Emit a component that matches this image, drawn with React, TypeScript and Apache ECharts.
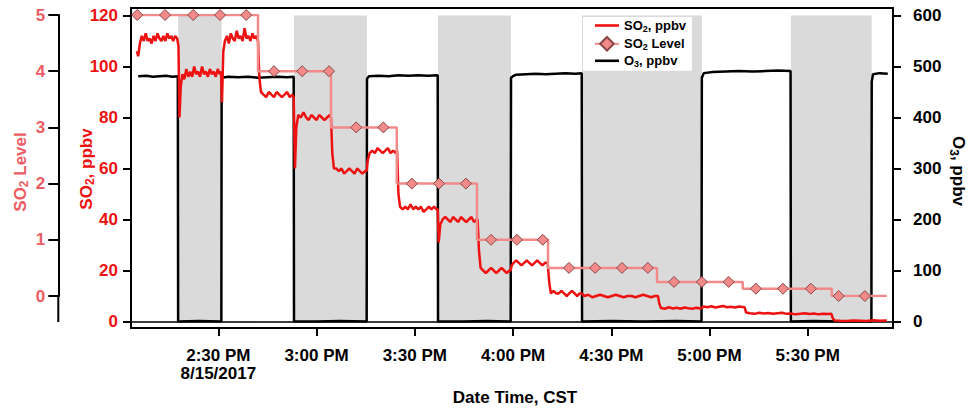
import React, { useEffect, useRef } from 'react';
import * as echarts from 'echarts';

const FONT = '"Liberation Sans", Arial, Helvetica, sans-serif';

// time values are minutes after 2:00 PM, 8/15/2017
const timeMin = 3.3;
const timeMax = 236.1;
const timeTickLabels = ['2:00 PM', '2:30 PM\n8/15/2017', '3:00 PM', '3:30 PM', '4:00 PM', '4:30 PM', '5:00 PM', '5:30 PM', '6:00 PM'];

const so2Ticks = { min: 0, max: 120, interval: 20 };
const o3Ticks = { min: 0, max: 600, interval: 100 };
const levelTicks = { min: 0, max: 5, interval: 1 };

// periods where O3 was switched off (shaded)
const grayPeriods: [number, number][] = [[17.7, 31.0], [53.1, 75.4], [97.1, 119.4], [141.1, 177.7], [204.9, 229.6]];

const so2Data: [number, number][] = [
  [5.1, 106], [5.5, 104], [6.0, 109], [6.6, 112], [7.2, 110], [7.8, 113], [8.4, 110], [9.0, 111], [9.6, 109], [10.2, 112], [10.8, 110], [11.4, 113], [12.0, 111], [12.6, 110], [13.2, 112], [13.8, 110], [14.4, 113], [15.0, 111], [15.6, 112], [16.2, 110], [16.8, 112], [17.4, 111], [17.8, 108],
  [18.1, 80], [18.5, 92], [19.0, 97], [19.6, 95], [20.2, 99], [20.8, 96], [21.4, 98], [22.0, 96], [22.6, 100], [23.2, 97], [23.8, 98], [24.4, 96], [25.0, 100], [25.6, 97], [26.2, 98], [26.8, 96], [27.4, 99], [28.0, 97], [28.6, 98], [29.2, 96], [29.8, 99], [30.4, 97], [30.8, 98],
  [31.1, 86], [31.5, 106], [32.0, 110], [32.6, 112], [33.2, 109], [33.8, 113], [34.4, 111], [35.0, 110], [35.6, 114], [36.2, 111], [36.8, 112], [37.4, 110], [38.0, 115], [38.6, 111], [39.2, 112], [39.8, 110], [40.4, 113], [41.0, 111], [41.6, 112], [42.1, 110],
  [42.5, 96], [43.0, 90], [43.8, 89], [44.6, 88], [45.4, 90], [46.2, 89], [47.0, 88], [47.8, 90], [48.6, 89], [49.4, 88], [50.2, 89], [51.0, 90], [51.8, 88], [52.6, 89], [53.0, 88],
  [53.4, 60], [53.8, 76], [54.4, 81], [55.2, 80], [56.0, 82], [56.8, 80], [57.6, 79], [58.4, 81], [59.2, 80], [60.0, 79], [60.8, 81], [61.6, 80], [62.4, 79], [63.2, 80], [64.0, 81], [64.4, 80],
  [64.8, 66], [65.3, 60], [66.0, 60], [66.8, 59], [67.6, 60], [68.4, 58], [69.2, 59], [70.0, 60], [70.8, 59], [71.6, 58], [72.4, 60], [73.2, 59], [74.0, 58], [74.8, 59], [75.3, 59],
  [75.6, 63], [76.2, 66], [77.0, 67], [77.8, 66], [78.6, 68], [79.4, 67], [80.2, 66], [81.0, 67], [81.8, 68], [82.6, 66], [83.4, 67], [84.2, 66], [84.6, 67],
  [85.0, 50], [85.5, 45], [86.3, 44], [87.1, 45], [87.9, 44], [88.7, 46], [89.5, 44], [90.3, 45], [91.1, 44], [91.9, 45], [92.7, 43], [93.5, 44], [94.3, 45], [95.1, 44], [95.9, 45], [96.7, 44], [97.0, 44],
  [97.3, 31], [97.8, 38], [98.5, 40], [99.3, 41], [100.1, 40], [100.9, 39], [101.7, 41], [102.5, 40], [103.3, 39], [104.1, 41], [104.9, 40], [105.7, 39], [106.5, 40], [107.3, 41], [108.1, 39], [108.9, 40], [109.2, 40],
  [109.6, 28], [110.1, 21], [110.9, 20], [111.7, 19], [112.5, 20], [113.3, 21], [114.1, 20], [114.9, 19], [115.7, 20], [116.5, 21], [117.3, 20], [118.1, 19], [118.9, 20], [119.3, 20],
  [119.6, 22], [120.2, 23], [121.0, 24], [121.8, 23], [122.6, 22], [123.4, 23], [124.2, 24], [125.0, 23], [125.8, 22], [126.6, 23], [127.4, 24], [128.2, 23], [129.0, 22], [129.8, 23], [130.6, 23],
  [131.1, 15], [131.6, 11], [132.4, 12], [133.2, 11], [134.0, 11], [134.8, 12], [135.6, 11], [136.4, 10], [137.2, 11], [138.0, 12], [138.8, 11], [139.6, 10], [140.4, 11], [141.0, 11],
  [141.8, 10], [143.0, 10.5], [144.2, 9.5], [145.4, 10], [146.6, 10.5], [147.8, 10], [149.0, 9.5], [150.2, 10], [151.4, 10.5], [152.6, 10], [153.8, 9.5], [155.0, 10], [156.2, 10], [157.4, 9.5], [158.6, 10], [159.8, 10.5], [161.0, 10], [162.2, 9.5], [163.4, 10], [164.3, 10],
  [164.7, 7], [165.2, 5.3], [166.4, 5], [167.6, 5.6], [168.8, 5.1], [170.0, 5.4], [171.2, 5], [172.4, 5.5], [173.6, 5.2], [174.8, 5], [176.0, 5.4], [177.2, 5.1], [177.7, 5.3],
  [178.2, 5.9], [179.4, 5.6], [180.6, 6], [181.8, 5.5], [183.0, 5.8], [184.2, 6.1], [185.4, 5.6], [186.6, 5.8], [187.8, 5.5], [189.0, 5.9], [190.2, 5.7], [190.8, 5.6],
  [191.2, 3.5], [192.4, 3.2], [193.8, 3.0], [195.2, 3.4], [196.6, 3.1], [198.0, 3.3], [199.4, 3.0], [200.8, 3.2], [202.2, 3.4], [203.6, 3.0], [205.0, 3.1], [206.4, 2.8], [207.8, 3.0], [209.2, 3.2], [210.6, 2.9], [212.0, 3.1], [213.4, 2.8], [214.8, 3.0], [216.2, 2.9], [217.3, 3.0],
  [217.7, 1.2], [218.3, 0.4], [220.0, 0.3], [222.0, 0.2], [224.0, 0.4], [226.0, 0.3], [228.0, 0.2], [230.0, 0.5], [232.0, 0.3], [234.2, 0.4],
];

const o3Data: [number, number][] = [
  [5.5, 481], [8, 482], [10, 480], [12, 481], [14, 482], [16, 480], [17.6, 481], [17.7, 0], [24, 1], [30.9, 0],
  [31.0, 478], [33, 480], [36, 479], [39, 480], [42, 478], [45, 479], [48, 480], [51, 479], [53.0, 480], [53.1, 0], [60, 0], [67, 1], [75.3, 0],
  [75.4, 476], [76, 481], [79, 482], [82, 481], [85, 483], [88, 482], [91, 483], [94, 482], [97.0, 483], [97.1, 0], [105, 0], [112, 1], [119.3, 0],
  [119.4, 478], [120, 481], [121, 484], [124, 485], [127, 486], [130, 485], [133, 486], [136, 487], [139, 486], [141.0, 487], [141.1, 0], [150, 1], [160, 0], [170, 1], [177.6, 0],
  [177.7, 478], [178.3, 487], [181, 489], [185, 490], [189, 491], [193, 490], [197, 491], [201, 492], [204.8, 491], [204.9, 0], [212, 1], [220, 0], [229.5, 0],
  [229.6, 470], [230, 485], [232, 487], [234.5, 486],
];

const levelValues = [5, 4, 3, 2, 1, 0.5, 0.25, 0.13, 0];
const levelEdges = [5.2, 42.1, 64.4, 84.5, 109.0, 130.7, 164.0, 190.2, 217.4, 234.2];
const levelMarkerTimes = [5.2, 13.7, 22.3, 30.5, 38.5, 47.0, 55.6, 63.8, 72.1, 80.4, 89.1, 97.4, 105.6, 113.3, 121.2, 129.1, 137.1, 145.1, 153.3, 161.2, 169.2, 177.7, 185.9, 194.2, 202.5, 211.0, 219.5, 227.5];

const seriesNames = ['SO2, ppbv', 'SO2 Level', 'O3, ppbv'];
const richNames: Record<string, string> = {
  'SO2, ppbv': '{a|SO}{s|2}{a|, ppbv}',
  'SO2 Level': '{a|SO}{s|2}{a| Level}',
  'O3, ppbv': '{a|O}{s|3}{a|, ppbv}',
};

function buildLevelData() {
  const out: any[] = [];
  levelValues.forEach((lv, i) => {
    const a = levelEdges[i];
    const b = levelEdges[i + 1];
    out.push({ value: [a, lv], symbol: 'none' });
    levelMarkerTimes.filter((t) => t >= a && t < b).forEach((t) => out.push({ value: [t, lv] }));
    out.push({ value: [b, lv], symbol: 'none' });
  });
  return out;
}

const SO2_RED = '#ee1111';
const LEVEL_RED = '#ec5c62';
const LEVEL_LINE = '#f28a8a';

export default function App() {
  const ref = useRef<HTMLDivElement>(null);
  useEffect(() => {
    if (!ref.current) return;
    const chart = echarts.init(ref.current, undefined, { renderer: 'svg' });
    const tickShow = (i: number) => i > 0 && i < timeTickLabels.length - 1;
    const lblFont = { fontFamily: FONT, fontSize: 17, fontWeight: 'bold' as const };
    const tick = (len: number) => ({ show: true, length: len, lineStyle: { color: '#000', width: 2 } });
    const titleRich = (fill: string) => ({
      a: { fontFamily: FONT, fontSize: 17, fontWeight: 'bold', fill, lineHeight: 20 },
      s: { fontFamily: FONT, fontSize: 12, fontWeight: 'bold', fill, lineHeight: 12, verticalAlign: 'bottom' },
    });
    const option: any = {
      animation: false,
      backgroundColor: '#fff',
      textStyle: { fontFamily: FONT },
      grid: [
        { left: 131, top: 8, width: 762, height: 320, show: true, borderColor: '#000', borderWidth: 2, backgroundColor: 'transparent' },
        { left: 131, top: 15.5, width: 762, height: 306 },
        { left: 131, top: 15, width: 762, height: 281 },
        { left: 120.07, top: 8, width: 785.9, height: 320 },
      ],
      xAxis: [
        { gridIndex: 0, type: 'value', min: timeMin, max: timeMax, show: false },
        {
          gridIndex: 1, type: 'value', min: timeMin, max: timeMax, z: 3,
          axisLine: { show: true, onZero: false, lineStyle: { color: '#000', width: 1.5 } },
          axisTick: { show: false }, axisLabel: { show: false }, splitLine: { show: false },
        },
        { gridIndex: 2, type: 'value', min: timeMin, max: timeMax, show: false },
        {
          gridIndex: 3, type: 'category', data: timeTickLabels, boundaryGap: false,
          axisLine: { show: false, onZero: false },
          axisTick: { ...tick(8), interval: tickShow },
          axisLabel: { ...lblFont, interval: tickShow, margin: 18, lineHeight: 18, color: '#000' },
          splitLine: { show: false },
        },
      ],
      yAxis: [
        { gridIndex: 0, type: 'value', min: 0, max: 1, show: false },
        {
          gridIndex: 1, type: 'value', position: 'left', ...so2Ticks,
          axisLine: { show: false }, axisTick: tick(8),
          axisLabel: { ...lblFont, margin: 13, color: SO2_RED }, splitLine: { show: false },
        },
        {
          gridIndex: 1, type: 'value', position: 'right', ...o3Ticks,
          axisLine: { show: false }, axisTick: tick(8),
          axisLabel: { ...lblFont, margin: 20, color: '#000' }, splitLine: { show: false },
        },
        {
          gridIndex: 2, type: 'value', position: 'left', offset: 72.7, ...levelTicks,
          axisLine: { show: true, onZero: false, lineStyle: { color: '#000', width: 2 } }, axisTick: tick(10),
          axisLabel: { ...lblFont, margin: 13, color: LEVEL_RED }, splitLine: { show: false },
        },
        { gridIndex: 3, type: 'value', min: 0, max: 1, show: false },
      ],
      legend: {
        orient: 'vertical', left: 583, top: 17, itemWidth: 24, itemHeight: 17, itemGap: 2.5,
        padding: [2, 6, 2, 11], backgroundColor: '#fff', selectedMode: false,
        data: [
          { name: seriesNames[0], icon: 'path://M0,0L24,0L24,2.6L0,2.6Z' },
          { name: seriesNames[1] },
          { name: seriesNames[2], icon: 'path://M0,0L24,0L24,2.6L0,2.6Z' },
        ],
        formatter: (n: string) => richNames[n] || n,
        textStyle: {
          color: '#000',
          rich: {
            a: { fontFamily: FONT, fontSize: 13, fontWeight: 'bold', color: '#000', lineHeight: 16 },
            s: { fontFamily: FONT, fontSize: 9, fontWeight: 'bold', color: '#000', lineHeight: 9, verticalAlign: 'bottom' },
          },
        },
      },
      series: [
        {
          name: seriesNames[0], type: 'line', xAxisIndex: 1, yAxisIndex: 1, data: so2Data,
          symbol: 'none', color: SO2_RED, lineStyle: { color: SO2_RED, width: 2.5 }, z: 3,
        },
        {
          name: seriesNames[1], type: 'line', xAxisIndex: 2, yAxisIndex: 3, data: buildLevelData(),
          symbol: 'diamond', symbolSize: 11, showAllSymbol: true, color: LEVEL_LINE,
          itemStyle: { color: LEVEL_LINE, borderColor: '#8a4646', borderWidth: 1 },
          lineStyle: { color: LEVEL_LINE, width: 2.5 }, z: 4,
        },
        {
          name: seriesNames[2], type: 'line', xAxisIndex: 1, yAxisIndex: 2, data: o3Data,
          symbol: 'none', color: '#000', lineStyle: { color: '#000', width: 2.5 }, z: 2,
          markArea: {
            silent: true,
            itemStyle: { color: '#dadada' },
            data: grayPeriods.map(([a, b]) => [{ xAxis: a, yAxis: o3Ticks.min }, { xAxis: b, yAxis: o3Ticks.max }]),
          },
        },
      ],
      graphic: [
        { type: 'line', shape: { x1: 58.3, y1: 296, x2: 58.3, y2: 322 }, style: { stroke: '#000', lineWidth: 2 } },
        {
          type: 'text', x: 20, y: 172, rotation: Math.PI / 2,
          style: { text: '{a|SO}{s|2}{a| Level}', rich: titleRich(LEVEL_RED), align: 'center', verticalAlign: 'middle' },
        },
        {
          type: 'text', x: 86, y: 169, rotation: Math.PI / 2,
          style: { text: '{a|SO}{s|2}{a|, ppbv}', rich: titleRich(SO2_RED), align: 'center', verticalAlign: 'middle' },
        },
        {
          type: 'text', x: 958, y: 171, rotation: -Math.PI / 2,
          style: { text: '{a|O}{s|3}{a|, ppbv}', rich: titleRich('#000'), align: 'center', verticalAlign: 'middle' },
        },
        {
          type: 'text', x: 515, y: 397,
          style: { text: 'Date Time, CST', fontFamily: FONT, fontSize: 17, fontWeight: 'bold', fill: '#000', align: 'center', verticalAlign: 'middle' },
        },
      ],
    };
    chart.setOption(option);
    return () => chart.dispose();
  }, []);
  return <div ref={ref} style={{ position: 'fixed', left: 0, top: 0, width: 971, height: 408 }} />;
}
